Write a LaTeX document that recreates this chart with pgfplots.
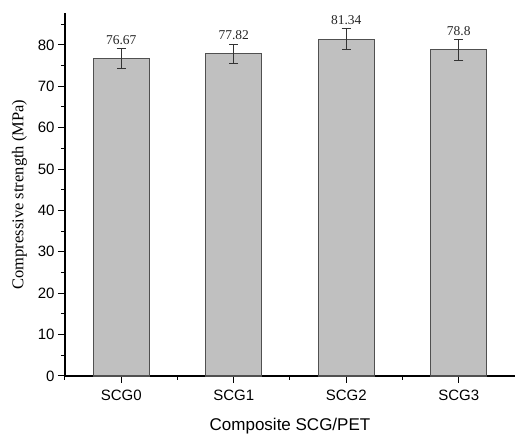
\documentclass[border=0pt]{standalone}
\usepackage{fontspec}
\setmainfont{Liberation Serif}
\newfontfamily\arialf{Liberation Sans}
\usepackage{pgfplots}
\pgfplotsset{compat=1.18}
\definecolor{barfill}{HTML}{C0C0C0}
\definecolor{baredge}{HTML}{505050}
\begin{document}
\begin{tikzpicture}
\useasboundingbox (-65pt,-60pt) rectangle (450pt,376pt);
\begin{axis}[
  scale only axis,
  width=450pt, height=363pt,
  xmin=-0.5, xmax=3.5,
  ymin=0, ymax=87.7,
  axis x line*=bottom, axis y line*=left,
  axis line style={line width=1.1pt, black, -},
  xtick={0,1,2,3},
  xticklabels={SCG0,SCG1,SCG2,SCG3},
  minor xtick={-0.5,0.5,1.5,2.5,3.5},
  ytick={0,10,...,80},
  minor ytick={5,15,...,85},
  tick align=outside,
  major tick length=7pt,
  minor tick length=4pt,
  tick style={line width=1pt, black},
  /pgf/number format/assume math mode=true,
  ticklabel style={font=\arialf\fontsize{15}{17}\selectfont},
  xticklabel style={yshift=-3pt},
  xlabel={Composite SCG/PET},
  ylabel={Compressive strength (MPa)},
  xlabel style={font=\arialf\fontsize{17}{20}\selectfont, at={(axis description cs:0.5,0)}, anchor=base, yshift=-55pt},
  ylabel style={font=\fontsize{16.5}{19}\selectfont, yshift=4pt},
  clip=false,
]
\addplot[ybar, bar width=0.5, fill=barfill, draw=baredge, line width=1.1pt,
  error bars/.cd, y dir=both, y explicit,
  error bar style={line width=1pt, black!80},
  error mark options={rotate=90, mark size=4.5pt, line width=1pt, black!80}]
  coordinates {
  (0,76.67) +- (0,2.4)
  (1,77.82) +- (0,2.3)
  (2,81.34) +- (0,2.5)
  (3,78.8)  +- (0,2.5)
  };
\addplot[only marks, mark=none, draw=none,
  nodes near coords, point meta=explicit symbolic,
  nodes near coords style={font=\fontsize{13.5}{15}\selectfont, anchor=south, inner sep=1pt, yshift=3pt, text=black!85}]
  coordinates {
  (0,79.07) [76.67]
  (1,80.12) [77.82]
  (2,83.84) [81.34]
  (3,81.3)  [78.8]
  };
\end{axis}
\end{tikzpicture}
\end{document}
